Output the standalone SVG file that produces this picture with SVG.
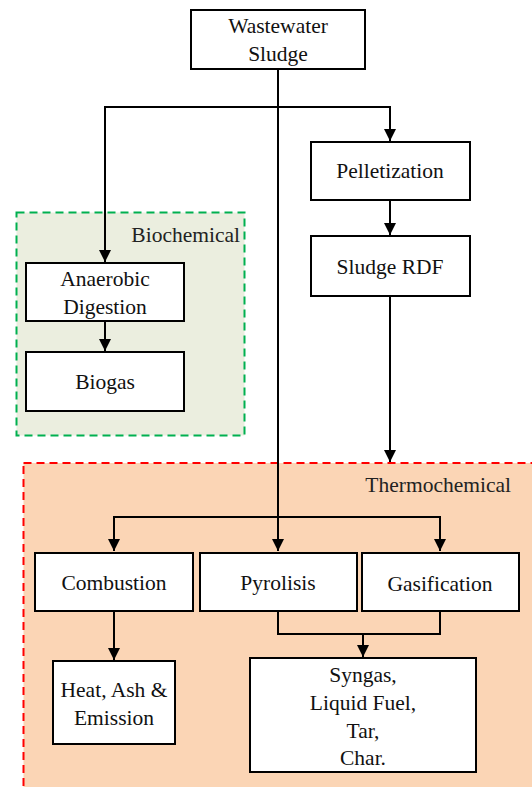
<svg xmlns="http://www.w3.org/2000/svg" width="532" height="787" viewBox="0 0 532 787">
<defs>
<marker id="arr" viewBox="0 0 10 10" refX="10" refY="5" markerWidth="13" markerHeight="12" markerUnits="userSpaceOnUse" orient="auto">
<path d="M0,0 L10,5 L0,10 z" fill="#000"/>
</marker>
<style>
.box{fill:#fff;stroke:#000;stroke-width:2}
.t{font-family:'Liberation Serif','Times New Roman',serif;font-size:21.5px;fill:#111;text-anchor:middle}
.g{font-family:'Liberation Serif','Times New Roman',serif;font-size:21.5px;fill:#222;text-anchor:end}
.c{fill:none;stroke:#000;stroke-width:2}
</style>
</defs>
<rect width="532" height="787" fill="#fff"/>
<g id="biochemical">
<rect x="16.5" y="212.5" width="228" height="223" fill="#EBEEDF" stroke="#00B050" stroke-width="2" stroke-dasharray="8,5"/>
<text class="g" x="240" y="242">Biochemical</text>
</g>
<g id="thermochemical">
<rect x="23.5" y="463" width="530" height="340" fill="#FBD5B5" stroke="#FF0000" stroke-width="2" stroke-dasharray="8,5"/>
<text class="g" x="511" y="492">Thermochemical</text>
</g>
<g id="connectors">
<path class="c" d="M278,69 V551" marker-end="url(#arr)"/>
<path class="c" d="M278,107 H105 V262" marker-end="url(#arr)"/>
<path class="c" d="M278,107 H390 V141" marker-end="url(#arr)"/>
<path class="c" d="M390,200 V235" marker-end="url(#arr)"/>
<path class="c" d="M390,296 V462" marker-end="url(#arr)"/>
<path class="c" d="M105,321 V351" marker-end="url(#arr)"/>
<path class="c" d="M278,517 H114 V551" marker-end="url(#arr)"/>
<path class="c" d="M278,517 H440 V551" marker-end="url(#arr)"/>
<path class="c" d="M114,611 V660" marker-end="url(#arr)"/>
<path class="c" d="M278,611 V634 H440 V611"/>
<path class="c" d="M363,634 V657" marker-end="url(#arr)"/>
</g>
<g id="wastewater">
<rect class="box" x="191" y="10" width="174" height="59"/>
<text class="t" x="278" y="33">Wastewater</text>
<text class="t" x="278" y="61">Sludge</text>
</g>
<g id="pelletization">
<rect class="box" x="311" y="142" width="159" height="58"/>
<text class="t" x="390" y="178">Pelletization</text>
</g>
<g id="sludge-rdf">
<rect class="box" x="311" y="236" width="159" height="60"/>
<text class="t" x="390" y="274">Sludge RDF</text>
</g>
<g id="anaerobic">
<rect class="box" x="26" y="263" width="158" height="58"/>
<text class="t" x="105" y="286">Anaerobic</text>
<text class="t" x="105" y="314">Digestion</text>
</g>
<g id="biogas">
<rect class="box" x="26" y="352" width="158" height="59"/>
<text class="t" x="105" y="389">Biogas</text>
</g>
<g id="combustion">
<rect class="box" x="35" y="553" width="158" height="58"/>
<text class="t" x="114" y="590">Combustion</text>
</g>
<g id="pyrolisis">
<rect class="box" x="200" y="553" width="157" height="58"/>
<text class="t" x="278" y="590">Pyrolisis</text>
</g>
<g id="gasification">
<rect class="box" x="362" y="553" width="157" height="58"/>
<text class="t" x="440" y="591">Gasification</text>
</g>
<g id="heat">
<rect class="box" x="53" y="661" width="122" height="83"/>
<text class="t" x="114" y="697">Heat, Ash &amp;</text>
<text class="t" x="114" y="725">Emission</text>
</g>
<g id="products">
<rect class="box" x="250" y="658" width="226" height="114"/>
<text class="t" x="363" y="682">Syngas,</text>
<text class="t" x="363" y="710">Liquid Fuel,</text>
<text class="t" x="363" y="738">Tar,</text>
<text class="t" x="363" y="765">Char.</text>
</g>
</svg>
